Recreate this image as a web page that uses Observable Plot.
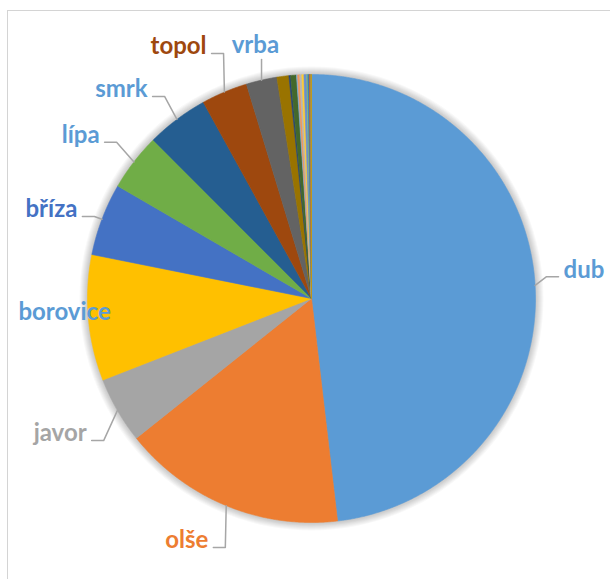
<!DOCTYPE html>
<html>
<head>
<meta charset="utf-8">
<script src="https://cdn.jsdelivr.net/npm/d3@7"></script>
<script src="https://cdn.jsdelivr.net/npm/@observablehq/plot@0.6"></script>
<style>
  html, body { margin: 0; padding: 0; background: #fff; overflow: hidden; width: 610px; height: 579px; }
  #wrap { position: relative; width: 610px; height: 579px; }
  #frame { position: absolute; left: 7px; top: 10px; width: 700px; height: 700px; border: 1px solid #d4d4d4; pointer-events: none; }
  #chart { position: absolute; left: 0; top: 0; }
</style>
</head>
<body>
<div id="wrap"><div id="chart"></div><div id="frame"></div></div>
<script>
// ---- data ----
const names = ["dub", "olše", "javor", "borovice", "bříza", "lípa", "smrk", "topol", "vrba",
  "ostatní 1", "ostatní 2", "ostatní 3", "ostatní 4", "ostatní 5", "ostatní 6", "ostatní 7",
  "ostatní 8", "ostatní 9", "ostatní 10", "ostatní 11", "ostatní 12", "ostatní 13"];
const values = [48.14, 16.14, 4.78, 9.08, 5.22, 4.14, 4.47, 3.33, 2.22,
  0.86, 0.12, 0.42, 0.08, 0.15, 0.15, 0.15, 0.2, 0.08, 0.1, 0.06, 0.05, 0.05];
const colors = ["#5B9BD5", "#ED7D31", "#A5A5A5", "#FFC000", "#4472C4", "#70AD47", "#255E91", "#9E480E", "#636363",
  "#997300", "#264478", "#43682B", "#7CAFDD", "#F1975A", "#B7B7B7", "#FFCD33", "#698ED0", "#8CC168",
  "#327DC2", "#D26012", "#848484", "#CC9A00"];
const labelNames = ["dub", "olše", "javor", "borovice", "bříza", "lípa", "smrk", "topol", "vrba"];
const labelColors = ["#5B9BD5", "#ED7D31", "#A5A5A5", "#5B9BD5", "#4472C4", "#5B9BD5", "#5B9BD5", "#9E480E", "#5B9BD5"];

// ---- label layout (polar: angle clockwise from top in degrees, radius in pie radii) ----
const labelLayout = [
  {angle: 83.7, r: 1.132, anchor: "start", leader: "h"},
  {angle: 203.1, r: 1.174, anchor: "end", leader: "h"},
  {angle: 239.0, r: 1.171, anchor: "end", leader: "h"},
  {angle: 266.8, r: 1.104, anchor: "middle", leader: "none"},
  {angle: 290.8, r: 1.118, anchor: "end", leader: "h"},
  {angle: 307.6, r: 1.194, anchor: "end", leader: "h"},
  {angle: 321.9, r: 1.186, anchor: "end", leader: "h"},
  {angle: 337.4, r: 1.219, anchor: "end", leader: "h"},
  {angle: 347.5, r: 1.157, anchor: "middle", leader: "v"}
];

// ---- geometry helpers ----
const R_PX = 224, CX = 311, CY = 298;
const px = 1 / R_PX;
function polar(deg, r) { const a = deg * Math.PI / 180; return [r * Math.sin(a), r * Math.cos(a)]; }

const total = d3.sum(values);
let acc = 0;
const slices = names.map((n, i) => {
  const a0 = acc / total * 360; acc += values[i]; const a1 = acc / total * 360;
  return {name: n, value: values[i], color: colors[i], a0, a1, mid: (a0 + a1) / 2};
});

const slicePts = [];
for (const s of slices) {
  slicePts.push({name: s.name, color: s.color, x: 0, y: 0});
  const steps = Math.max(2, Math.ceil((s.a1 - s.a0) / 0.25));
  for (let k = 0; k <= steps; k++) {
    const [x, y] = polar(s.a0 + (s.a1 - s.a0) * k / steps, 1);
    slicePts.push({name: s.name, color: s.color, x, y});
  }
  slicePts.push({name: s.name, color: s.color, x: 0, y: 0});
}

// soft outer shadow: rings just outside the pie radius, centred on the slices' common vertex
const shadowRings = d3.range(1, 9).map(k => ({x: 0, y: 0, r: R_PX + k}));

const labels = labelNames.map((n, i) => {
  const [x, y] = polar(labelLayout[i].angle, labelLayout[i].r);
  const s = slices.find(d => d.name === n);
  return {name: n, color: labelColors[i], x, y, anchor: labelLayout[i].anchor, leader: labelLayout[i].leader, mid: s.mid};
});

const leaderPts = [];
for (const l of labels) {
  if (l.leader === "none") continue;
  const [ex, ey] = polar(l.mid, 1.0);
  let pts;
  if (l.leader === "v") pts = [[ex, l.y - 14 * px], [ex, ey]];
  else if (l.anchor === "start") pts = [[l.x - 5 * px, l.y - 6 * px], [l.x - 17 * px, l.y - 6 * px], [ex, ey]];
  else pts = [[l.x + 5 * px, l.y - 7 * px], [l.x + 17 * px, l.y - 7 * px], [ex, ey]];
  for (const [x, y] of pts) leaderPts.push({name: l.name, x, y});
}

const textOpts = {x: "x", y: "y", text: "name", fill: "color", fontSize: 24, fontWeight: "bold", fontFamily: "Lato, 'Open Sans', sans-serif"};

const chart = Plot.plot({
  width: 610, height: 579,
  margin: 0,
  x: {domain: [-1, 1], range: [CX - R_PX, CX + R_PX], axis: null},
  y: {domain: [-1, 1], range: [CY + R_PX, CY - R_PX], axis: null},
  r: {type: "identity"},
  color: {type: "identity"},
  style: {background: "transparent", overflow: "visible"},
  marks: [
    Plot.dot(shadowRings, {x: "x", y: "y", r: "r", fill: "#000", fillOpacity: 0.028, stroke: "none"}),
    Plot.line(slicePts, {x: "x", y: "y", z: "name", fill: "color", stroke: "color", strokeWidth: 0.6, curve: "linear"}),
    Plot.line(leaderPts, {x: "x", y: "y", z: "name", stroke: "#A6A6A6", strokeWidth: 1.5, curve: "linear"}),
    Plot.text(labels.filter(d => d.anchor === "start"), {...textOpts, textAnchor: "start"}),
    Plot.text(labels.filter(d => d.anchor === "end"), {...textOpts, textAnchor: "end"}),
    Plot.text(labels.filter(d => d.anchor === "middle"), {...textOpts, textAnchor: "middle"})
  ]
});

document.getElementById("chart").appendChild(chart);
</script>
</body>
</html>
